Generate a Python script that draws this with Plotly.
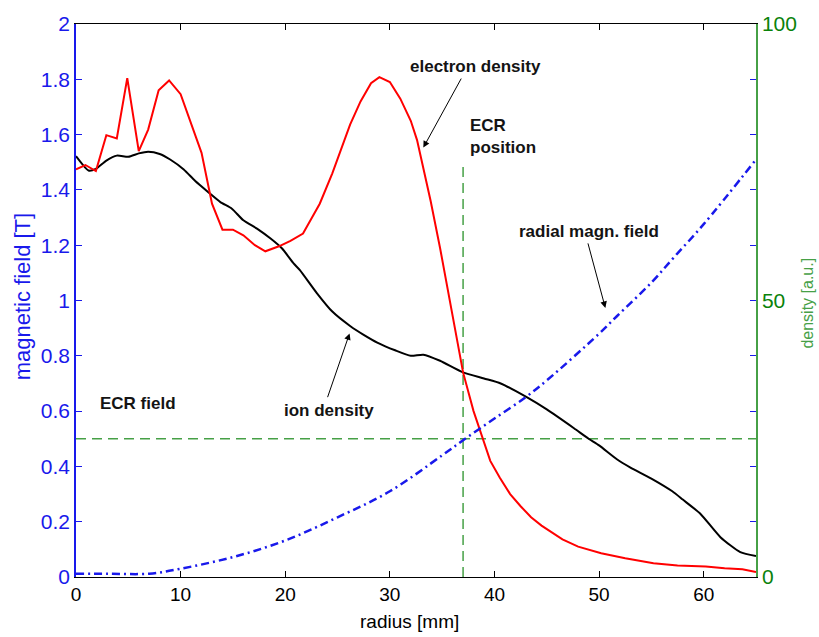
import plotly.graph_objects as go

# ---------------- data ----------------
# electron density (a.u., right axis)
r_electron = [0, 0.9, 1.9, 2.9, 3.9, 4.9, 6.0, 6.9, 7.9, 8.9, 10.0, 10.9, 12.0, 13.0, 14.0,
              15.0, 16.0, 17.1, 18.1, 19.4, 20.5, 21.7, 23.3, 24.5, 25.5, 26.2, 27.2, 28.2, 29.0, 30.0,
              31.0, 32.0, 32.6, 33.2, 33.9, 34.8, 35.5, 36.2, 37.0, 38.0, 38.7, 39.6, 40.5, 41.5, 42.5,
              43.5, 44.5, 45.5, 46.5, 48.0, 50.2, 52.5, 55.2, 57.5, 60.2, 62.0, 63.7, 65.0]
electron_density = [73.7, 74.5, 73.4, 79.9, 79.3, 90.2, 77.0, 80.9, 88.0, 89.8, 87.3, 82.4, 76.7, 67.5, 62.8,
                    62.8, 61.8, 60.0, 58.9, 59.8, 60.8, 62.1, 67.5, 73.0, 78.0, 81.8, 86.0, 89.3, 90.4, 89.5,
                    86.5, 82.5, 79.0, 74.0, 68.0, 59.5, 52.5, 45.0, 37.0, 30.0, 26.0, 21.0, 18.0, 15.0, 12.8,
                    10.8, 9.3, 8.0, 6.8, 5.5, 4.3, 3.4, 2.5, 2.1, 1.9, 1.6, 1.4, 0.9]

# ion density (a.u., right axis)
r_ion = [0, 1.2, 1.9, 2.9, 3.9, 5.0, 6.0, 6.9, 8.0, 9.0, 10.3, 11.4, 12.7, 13.8, 14.9,
         16.0, 17.3, 18.6, 19.7, 20.8, 21.4, 23.0, 24.5, 26.2, 27.5, 28.8, 30.5, 32.0, 33.2, 34.8,
         37.0, 39.0, 40.6, 43.0, 45.0, 47.6, 49.0, 50.0, 51.7, 53.0, 55.0, 57.0, 58.0, 59.7, 61.6,
         63.5, 65.0]
ion_density = [76.1, 73.5, 73.8, 75.3, 76.2, 76.0, 76.6, 76.9, 76.5, 75.5, 73.7, 71.6, 69.5, 67.8, 66.6,
               64.5, 63.0, 61.2, 59.4, 56.7, 55.5, 51.4, 48.0, 45.4, 43.8, 42.4, 41.0, 40.0, 40.2, 39.1,
               37.0, 35.9, 35.0, 32.6, 30.3, 26.9, 25.0, 23.8, 21.3, 19.8, 17.8, 15.5, 14.0, 11.4, 7.2,
               4.5, 3.8]

# radial magnetic field (T, left axis)
r_field = [0, 3, 7, 10, 15, 20, 25, 30, 35, 37.2, 40, 43, 45, 50, 51.7, 55, 57.2, 60, 65]
radial_field = [0.012, 0.012, 0.012, 0.03, 0.072, 0.132, 0.216, 0.31, 0.44, 0.5, 0.573, 0.651,
                0.711, 0.88, 0.943, 1.065, 1.158, 1.276, 1.51]

ecr_field = 0.5       # T
ecr_position = 37.0   # mm
ecr_pos_top = 1.5     # T

x_ticks = [0, 10, 20, 30, 40, 50, 60]
y2_ticks = [0, 50, 100]

# ---------------- styles ----------------
FONT = "Liberation Sans, Arial, sans-serif"
BLUE = "rgb(25,25,235)"
GREEN = "rgb(70,160,70)"
GREEN_TXT = "rgb(10,130,10)"

fig = go.Figure()

fig.add_trace(go.Scatter(x=[0, 65], y=[ecr_field, ecr_field], mode="lines",
                         line=dict(color=GREEN, width=1.5, dash="10px,6px"), yaxis="y"))
fig.add_trace(go.Scatter(x=[ecr_position, ecr_position], y=[0, ecr_pos_top], mode="lines",
                         line=dict(color=GREEN, width=1.5, dash="10px,6px"), yaxis="y"))
fig.add_trace(go.Scatter(x=r_field, y=radial_field, mode="lines",
                         line=dict(color=BLUE, width=2.5, dash="8px,4px,2px,4px", shape="spline"),
                         yaxis="y3"))
fig.add_trace(go.Scatter(x=r_ion, y=ion_density, mode="lines",
                         line=dict(color="black", width=2, shape="spline", smoothing=0.6), yaxis="y2"))
fig.add_trace(go.Scatter(x=r_electron, y=electron_density, mode="lines",
                         line=dict(color="rgb(255,0,0)", width=2), yaxis="y2"))

ann_font = dict(family=FONT, size=17, color="rgb(20,20,20)", weight="bold")
annotations = [
    dict(x=38.2, y=1.846, text="electron density", showarrow=False, font=ann_font),
    dict(x=37.5, y=1.593, text="ECR<br>position", showarrow=False, xanchor="left", align="left", font=ann_font),
    dict(x=49.0, y=1.249, text="radial magn. field", showarrow=False, font=ann_font),
    dict(x=24.2, y=0.601, text="ion density", showarrow=False, font=ann_font),
    dict(x=5.9, y=0.627, text="ECR field", showarrow=False, font=ann_font),
]
for a in annotations:
    a.update(xref="x", yref="y")
arrows = [((36.9, 1.808), (33.2, 1.553)),
          ((48.9, 1.212), (50.6, 0.973)),
          ((24.0, 0.645), (26.15, 0.881))]
for (tx, ty), (hx, hy) in arrows:
    annotations.append(dict(x=hx, y=hy, ax=tx, ay=ty, xref="x", yref="y", axref="x", ayref="y",
                            text="", showarrow=True, arrowhead=2, arrowsize=1.3, arrowwidth=1,
                            arrowcolor="black", standoff=0, startstandoff=0))

annotations += [
    dict(x=-0.079, y=0.508, xref="paper", yref="paper", xanchor="center", yanchor="middle",
         text="magnetic field [T]", textangle=-90,
         showarrow=False, font=dict(family=FONT, size=22, color=BLUE)),
    dict(x=1.0755, y=0.495, xref="paper", yref="paper", xanchor="center", yanchor="middle",
         text="density [a.u.]", textangle=-90,
         showarrow=False, font=dict(family=FONT, size=16, color=GREEN)),
    dict(x=0.491, y=-0.081, xref="paper", yref="paper", xanchor="center", yanchor="middle",
         text="radius [mm]", showarrow=False, font=dict(family=FONT, size=19, color="black")),
]

fig.update_layout(
    width=819, height=637,
    margin=dict(l=76, r=63, t=18, b=60),
    paper_bgcolor="white", plot_bgcolor="white",
    showlegend=False,
    font=dict(family=FONT),
    xaxis=dict(range=[0, 65], tickvals=x_ticks, ticks="inside", ticklen=6, tickcolor="black",
               showline=True, linecolor="black", linewidth=1, mirror="ticks",
               showgrid=False, zeroline=False,
               tickfont=dict(family=FONT, size=19, color="black")),
    yaxis=dict(range=[0, 2], dtick=0.2, ticks="inside", ticklen=6, tickcolor=BLUE,
               showline=True, linecolor=BLUE, linewidth=1.5, showgrid=False, zeroline=False,
               tickfont=dict(family=FONT, size=21, color=BLUE)),
    yaxis2=dict(range=[0, 100], tickvals=y2_ticks, overlaying="y", side="right", ticks="inside",
                ticklen=6, tickcolor=GREEN, showline=True, linecolor=GREEN, linewidth=1.5,
                showgrid=False, zeroline=False,
                tickfont=dict(family=FONT, size=21, color=GREEN_TXT)),
    yaxis3=dict(range=[0, 2], dtick=0.2, overlaying="y", side="right", ticks="inside", ticklen=6,
                tickcolor=BLUE, showticklabels=False, showline=False, showgrid=False, zeroline=False),
    annotations=annotations,
)

fig.write_html("out.html")
